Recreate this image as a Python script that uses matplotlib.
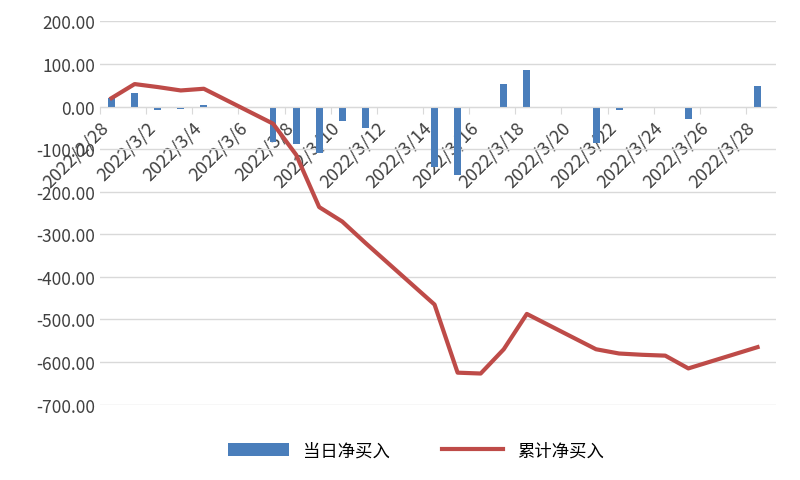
import numpy as np
import matplotlib.pyplot as plt

plt.rcParams['font.family'] = ['Noto Sans CJK SC', 'DejaVu Sans']

# trading days as day offsets from 2022/2/28
days = [0, 1, 2, 3, 4, 7, 8, 9, 10, 11, 14, 15, 16, 17, 18, 21, 22, 23, 24, 25, 28]
daily = [20, 33, -7, -5, 3, -82, -87, -108, -33, -51, -142, -160, -2, 52, 85,
         -85, -8, -2, -1, -30, 49]
cumul = [20, 53, 46, 38, 42, -40, -113, -236, -270, -320, -465, -625, -627, -570, -487,
         -570, -580, -583, -585, -615, -565]
tick_days = list(range(0, 29, 2))
tick_labels = ["2022/2/28"] + [f"2022/3/{d}" for d in range(2, 29, 2)]

fig = plt.figure(figsize=(8, 4.81), dpi=100)
ax = fig.add_axes([0.125, 0.155, 0.845, 0.80])
bars = ax.bar(days, daily, width=0.3, color="#4a7ebb", label="当日净买入", zorder=2)
line, = ax.plot(days, cumul, color="#be4b48", lw=3, label="累计净买入", zorder=3)

ax.set_xlim(-0.5, 28.8)
ax.set_ylim(-702, 202)
ax.set_yticks(np.arange(-700, 201, 100))
ax.set_yticklabels([f"{v:.2f}" for v in np.arange(-700, 201, 100)], fontsize=12.5, color="#404040")
ax.grid(axis="y", color="#d9d9d9", lw=1, zorder=0)
for s in ["top", "right", "left"]:
    ax.spines[s].set_visible(False)
ax.spines["bottom"].set_position(("data", 0))
ax.spines["bottom"].set_color("#d9d9d9")
ax.set_xticks([d - 0.5 for d in tick_days])
ax.set_xticklabels(tick_labels, rotation=45, ha="right", rotation_mode="anchor",
                   fontsize=13, color="#404040")
ax.tick_params(axis="x", color="#d9d9d9", length=5)
ax.tick_params(axis="y", length=0)

fig.legend([bars, line], ["当日净买入", "累计净买入"], loc="lower center",
           bbox_to_anchor=(0.52, 0.01), ncol=2, frameon=False,
           fontsize=12.5, handlelength=3.5, columnspacing=3)
fig.savefig("out.png", dpi=100)
